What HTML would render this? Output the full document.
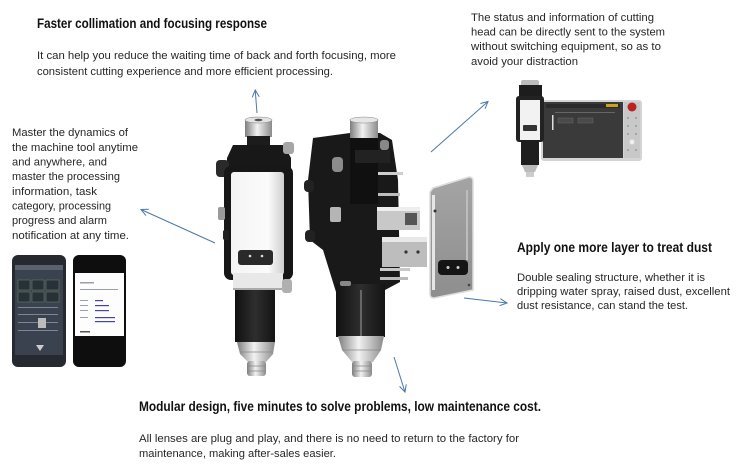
<!DOCTYPE html>
<html><head><meta charset="utf-8"><style>
html,body{margin:0;padding:0;background:#fff;}
svg{display:block;}
text{font-family:"Liberation Sans",sans-serif;fill:#262626;}
.b{font-size:11px;}
.t{font-size:14px;font-weight:bold;fill:#111;}
</style></head><body>
<svg width="742" height="470" viewBox="0 0 742 470" xmlns="http://www.w3.org/2000/svg">
<defs>
<linearGradient id="sil" x1="0" x2="1" y1="0" y2="0">
<stop offset="0" stop-color="#7d7d7d"/><stop offset="0.45" stop-color="#f2f2f2"/><stop offset="1" stop-color="#8a8a8a"/>
</linearGradient>
<linearGradient id="wht" x1="0" x2="1" y1="0" y2="0">
<stop offset="0" stop-color="#f4f4f4"/><stop offset="0.7" stop-color="#fbfbfb"/><stop offset="1" stop-color="#cfcfcf"/>
</linearGradient>
<linearGradient id="blk" x1="0" x2="1" y1="0" y2="0">
<stop offset="0" stop-color="#111"/><stop offset="0.5" stop-color="#2e2e2e"/><stop offset="1" stop-color="#141414"/>
</linearGradient>
<linearGradient id="plate" x1="0" x2="0" y1="0" y2="1">
<stop offset="0" stop-color="#a4a4a4"/><stop offset="1" stop-color="#8e8e8e"/>
</linearGradient>
<marker id="ah" markerWidth="10" markerHeight="10" refX="8" refY="4" orient="auto" markerUnits="userSpaceOnUse">
<path d="M1,0.5 L8,4 L1,7.5" fill="none" stroke="#4a78aa" stroke-width="1"/>
</marker>
</defs>
<rect width="742" height="470" fill="#fff"/>

<!-- TEXT -->
<text class="t" x="37" y="28" textLength="230" lengthAdjust="spacingAndGlyphs">Faster collimation and focusing response</text>
<text class="b" x="37" y="59" textLength="359" lengthAdjust="spacingAndGlyphs">It can help you reduce  the waiting time of back and forth focusing, more</text>
<text class="b" x="37" y="75" textLength="296" lengthAdjust="spacingAndGlyphs">consistent cutting experience and more efficient processing.</text>

<text class="b" x="471" y="21" textLength="183" lengthAdjust="spacingAndGlyphs">The status and information of cutting</text>
<text class="b" x="471" y="35.5" textLength="194" lengthAdjust="spacingAndGlyphs">head can be directly sent to the system</text>
<text class="b" x="471" y="50" textLength="190" lengthAdjust="spacingAndGlyphs">without switching equipment,  so as to</text>
<text class="b" x="471" y="65" textLength="107" lengthAdjust="spacingAndGlyphs">avoid your  distraction</text>

<text class="b" x="12" y="136" textLength="116" lengthAdjust="spacingAndGlyphs">Master the dynamics of</text>
<text class="b" x="12" y="151" textLength="126" lengthAdjust="spacingAndGlyphs">the machine tool anytime</text>
<text class="b" x="12" y="165.5" textLength="95" lengthAdjust="spacingAndGlyphs">and anywhere,  and</text>
<text class="b" x="12" y="180" textLength="108" lengthAdjust="spacingAndGlyphs">master the processing</text>
<text class="b" x="12" y="195" textLength="85" lengthAdjust="spacingAndGlyphs">information, task</text>
<text class="b" x="12" y="209.5" textLength="99" lengthAdjust="spacingAndGlyphs">category, processing</text>
<text class="b" x="12" y="224" textLength="95" lengthAdjust="spacingAndGlyphs">progress and alarm</text>
<text class="b" x="12" y="239" textLength="117" lengthAdjust="spacingAndGlyphs">notification at any time.</text>

<text class="t" x="517" y="252" textLength="195" lengthAdjust="spacingAndGlyphs">Apply one more layer to treat dust</text>
<text class="b" x="517" y="281" textLength="188" lengthAdjust="spacingAndGlyphs">Double sealing structure,  whether  it is</text>
<text class="b" x="517" y="295" textLength="213" lengthAdjust="spacingAndGlyphs">dripping water spray, raised dust, excellent</text>
<text class="b" x="517" y="309" textLength="171" lengthAdjust="spacingAndGlyphs">dust resistance, can stand the test.</text>

<text class="t" x="139" y="411" textLength="402" lengthAdjust="spacingAndGlyphs">Modular design, five minutes to solve problems, low maintenance cost.</text>
<text class="b" x="139" y="442" textLength="380" lengthAdjust="spacingAndGlyphs">All lenses are plug and play, and there is no need to return to the factory for</text>
<text class="b" x="139" y="457" textLength="197" lengthAdjust="spacingAndGlyphs">maintenance, making after-sales easier.</text>

<!-- ARROWS -->
<g stroke="#4a78aa" stroke-width="1" fill="none" marker-end="url(#ah)">
<line x1="257" y1="113" x2="255.2" y2="90"/>
<line x1="215" y1="243" x2="141" y2="209.5"/>
<line x1="431" y1="152" x2="488" y2="101.5"/>
<line x1="464" y1="298" x2="507" y2="303"/>
<line x1="394" y1="357" x2="405" y2="392"/>
</g>

<!-- LEFT HEAD -->
<g>
<rect x="245" y="120" width="27" height="17" fill="url(#sil)"/>
<ellipse cx="258.5" cy="120" rx="13.5" ry="3" fill="#e4e4e4" stroke="#888" stroke-width="0.6"/>
<ellipse cx="258.5" cy="120" rx="4" ry="1.3" fill="#555"/>
<rect x="247" y="136" width="23" height="22" fill="#1c1c1c"/>
<path d="M233,145 L284,145 L291,158 L291,172 L227,172 L227,158 Z" fill="#181818"/>
<rect x="283" y="142" width="11" height="12" rx="3" fill="#a5a5a5"/>
<rect x="216" y="160" width="13" height="17" rx="4" fill="#2a2a2a"/>
<rect x="224" y="166" width="69" height="114" rx="7" fill="#171717"/>
<rect x="231" y="172" width="53" height="103" rx="3" fill="url(#wht)"/>
<rect x="218" y="207" width="7" height="13" rx="2" fill="#9a9a9a"/>
<rect x="223" y="230" width="6" height="10" rx="2" fill="#222"/>
<rect x="238" y="250" width="35" height="15" rx="3" fill="#2a2a2a"/>
<circle cx="250" cy="256" r="1.3" fill="#ddd"/><circle cx="262" cy="256" r="1.3" fill="#ddd"/>
<rect x="233" y="273" width="50" height="17" fill="#e8e8e8"/>
<rect x="233" y="288" width="50" height="2" fill="#aaa"/>
<rect x="282" y="279" width="10" height="14" rx="3" fill="#b0b0b0"/>
<rect x="235" y="290" width="40" height="52" fill="url(#blk)"/>
<path d="M237,342 L275,342 L273,354 L266,362 L248,362 L240,354 Z" fill="url(#sil)"/>
<rect x="247" y="361" width="19" height="15" rx="3" fill="url(#sil)"/>
<line x1="240" y1="352" x2="273" y2="352" stroke="#888" stroke-width="0.7"/>
<line x1="247" y1="366" x2="266" y2="366" stroke="#888" stroke-width="0.7"/>
<line x1="247" y1="371" x2="266" y2="371" stroke="#888" stroke-width="0.7"/>
</g>

<!-- RIGHT HEAD -->
<g>
<path d="M313,138 L350,133 L380,133 L392,140 L398,180 L400,282 L385,290 L336,292 L323,250 L310,240 L308,180 Z" fill="#191919"/>
<rect x="304" y="180" width="10" height="12" rx="4" fill="#222"/>
<rect x="305" y="230" width="10" height="12" rx="4" fill="#222"/>
<rect x="350" y="120" width="28" height="20" fill="url(#sil)"/>
<ellipse cx="364" cy="120" rx="14" ry="3" fill="#e6e6e6" stroke="#888" stroke-width="0.6"/>
<rect x="350" y="138" width="28" height="66" fill="#101010"/>
<rect x="355" y="150" width="35" height="13" fill="#222"/>
<rect x="380" y="140" width="9" height="10" rx="3" fill="#888"/>
<rect x="332" y="157" width="11" height="15" rx="4" fill="#8c8c8c"/>
<rect x="330" y="207" width="11" height="15" rx="2" fill="#b5b5b5"/>
<rect x="378" y="172" width="25" height="3" fill="#cfcfcf"/>
<rect x="378" y="193" width="22" height="3" fill="#bdbdbd"/>
<rect x="377" y="207" width="43" height="23" fill="#c8c8c8"/>
<rect x="377" y="207" width="43" height="4" fill="#eee"/>
<rect x="405" y="213" width="12" height="12" fill="#555"/>
<rect x="382" y="237" width="45" height="30" fill="#bdbdbd"/>
<rect x="382" y="237" width="45" height="5" fill="#e8e8e8"/>
<circle cx="406" cy="252" r="1.6" fill="#333"/><circle cx="418" cy="252" r="1.6" fill="#333"/>
<rect x="380" y="268" width="30" height="3" fill="#c8c8c8"/>
<rect x="380" y="277" width="28" height="3" fill="#bbb"/>
<path d="M336,284 L385,284 L385,337 L336,337 Z" fill="url(#blk)"/>
<rect x="340" y="281" width="11" height="5" rx="2" fill="#888"/>
<rect x="360" y="290" width="2" height="47" fill="#666"/>
<path d="M338,336 L384,336 L381,350 L373,362 L352,362 L342,350 Z" fill="url(#sil)"/>
<rect x="352" y="361" width="20" height="16" rx="3" fill="url(#sil)"/>
<line x1="342" y1="350" x2="381" y2="350" stroke="#888" stroke-width="0.7"/>
<line x1="352" y1="366" x2="372" y2="366" stroke="#888" stroke-width="0.7"/>
<line x1="352" y1="371" x2="372" y2="371" stroke="#888" stroke-width="0.7"/>
</g>

<!-- SIDE PLATE -->
<g>
<path d="M433,188 L469,177 Q473,177 473,181 L473,290 L434,298 Q430,298 430,294 L430,192 Z" fill="url(#plate)" stroke="#dcdcdc" stroke-width="1.5"/>
<rect x="432" y="195" width="3" height="95" fill="#e6e6e6"/>
<rect x="466" y="190" width="2" height="70" fill="#bdbdbd"/>
<rect x="438" y="260" width="30" height="15" rx="4" fill="#151515"/>
<circle cx="448" cy="267.5" r="1.5" fill="#ccc"/><circle cx="458" cy="267.5" r="1.5" fill="#ccc"/>
<circle cx="435" cy="211" r="1.5" fill="#333"/><circle cx="469" cy="285" r="1.3" fill="#444"/>
</g>

<!-- TABLET + HEAD -->
<g>
<rect x="541" y="100" width="101" height="61" rx="3" fill="#d4d4d4"/>
<rect x="543" y="102" width="80" height="56" fill="#3a3a3a"/>
<rect x="546" y="104" width="74" height="4" fill="#2a2a2a"/>
<rect x="606" y="104" width="12" height="3" fill="#c9a21a"/>
<rect x="555" y="112" width="60" height="1" fill="#666"/>
<rect x="558" y="118" width="15" height="5" fill="#4a4a4a" stroke="#666" stroke-width="0.5"/>
<rect x="578" y="118" width="15" height="5" fill="#4a4a4a" stroke="#666" stroke-width="0.5"/>
<rect x="552" y="115" width="1.5" height="15" fill="#ddd"/>
<rect x="624" y="102" width="16" height="56" fill="#c8c8c8"/>
<circle cx="632" cy="107" r="4.5" fill="#b22"/>
<g fill="#999"><circle cx="628" cy="118" r="1"/><circle cx="636" cy="118" r="1"/><circle cx="628" cy="126" r="1"/><circle cx="636" cy="126" r="1"/><circle cx="628" cy="134" r="1"/><circle cx="636" cy="134" r="1"/><circle cx="628" cy="150" r="1"/><circle cx="636" cy="150" r="1"/></g>
<circle cx="632" cy="142" r="2.5" fill="#eee"/>
<rect x="521" y="80" width="18" height="6" rx="2" fill="#bbb"/>
<rect x="519" y="85" width="23" height="15" fill="#1d1d1d"/>
<rect x="516" y="96" width="28" height="46" rx="3" fill="#222"/>
<rect x="520" y="100" width="20" height="40" fill="#f2f2f2"/>
<rect x="523" y="125" width="14" height="6" rx="1" fill="#333"/>
<rect x="521" y="140" width="18" height="25" fill="#1e1e1e"/>
<path d="M522,165 L538,165 L535,172 L525,172 Z" fill="#bbb"/>
<rect x="526" y="172" width="8" height="5" fill="#ccc"/>
</g>

<!-- PHONES -->
<g>
<rect x="12" y="255" width="54" height="112" rx="6" fill="#262a30"/>
<rect x="15" y="265" width="48" height="90" fill="#3a4250"/>
<rect x="15" y="265" width="48" height="5" fill="#5a6270"/>
<g fill="#283038" stroke="#6e8a6a" stroke-width="0.5">
<rect x="18" y="280" width="12" height="10"/><rect x="32" y="280" width="12" height="10"/><rect x="46" y="280" width="13" height="10"/>
<rect x="18" y="292" width="12" height="10"/><rect x="32" y="292" width="12" height="10"/><rect x="46" y="292" width="13" height="10"/>
</g>
<g fill="#7c8694"><rect x="18" y="307" width="40" height="1"/><rect x="18" y="314" width="40" height="1"/><rect x="18" y="322" width="40" height="1"/><rect x="18" y="330" width="40" height="1"/></g>
<rect x="38" y="318" width="8" height="10" fill="#bbb"/>
<path d="M36,345 L44,345 L40,351 Z" fill="#ccc"/>
<rect x="73" y="255" width="53" height="112" rx="6" fill="#0e0e0e"/>
<rect x="75" y="273" width="49" height="63" fill="#fdfdfd"/>
<g fill="#9aa0a8"><rect x="80" y="282" width="14" height="1.5"/><rect x="80" y="289" width="38" height="1"/><rect x="80" y="300" width="8" height="1"/><rect x="95" y="300" width="8" height="1.2" fill="#44a"/><rect x="80" y="305" width="8" height="1"/><rect x="95" y="305" width="14" height="1.2" fill="#44a"/><rect x="80" y="310" width="8" height="1"/><rect x="95" y="310" width="14" height="1.2" fill="#44a"/><rect x="80" y="317" width="8" height="1"/><rect x="95" y="317" width="20" height="1.2" fill="#44a"/><rect x="95" y="321" width="20" height="1.2" fill="#44a"/><rect x="80" y="331" width="10" height="1.5" fill="#555"/></g>
</g>
</svg>
</body></html>
